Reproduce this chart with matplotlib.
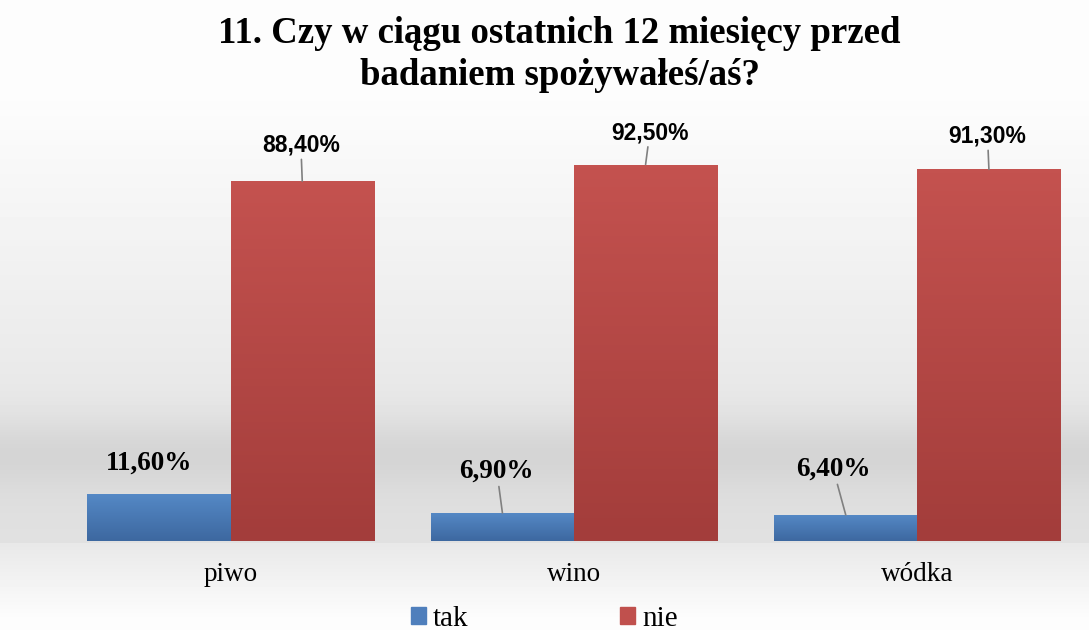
import matplotlib.pyplot as plt
import numpy as np
from matplotlib.colors import LinearSegmentedColormap
from matplotlib.patches import Patch

categories = ['piwo', 'wino', 'wódka']
tak = [11.6, 6.9, 6.4]
nie = [88.4, 92.5, 91.3]
tak_labels = ['11,60%', '6,90%', '6,40%']
nie_labels = ['88,40%', '92,50%', '91,30%']
title = '11. Czy w ciągu ostatnich 12 miesięcy przed\nbadaniem spożywałeś/aś?'

fig = plt.figure(figsize=(10.89, 6.3), dpi=100)

# background with a soft grey "floor"
bg = fig.add_axes([0, 0, 1, 1], zorder=-10)
yy = np.linspace(0, 1, 630)  # 0 = top
shade = 0.99 - 0.11 * np.clip((yy - 0.15) / 0.65, 0, 1)
shade -= 0.06 * np.exp(-((yy - 0.72) / 0.06) ** 2)
floor = 0.91 + 0.08 * np.clip((yy - 0.862) / 0.12, 0, 1)
shade = np.where(yy > 0.862, floor, shade)
bg.imshow(np.tile(shade[:, None], (1, 10)), cmap='gray', vmin=0, vmax=1,
          aspect='auto', extent=[0, 1, 0, 1])
bg.axis('off')

ax = fig.add_axes([59 / 1089, 89 / 630, 1030 / 1089, 407 / 630])
ax.patch.set_alpha(0)
x = np.arange(len(categories))
w = 0.417

blue_cmap = LinearSegmentedColormap.from_list('b', ['#3d68a0', '#5589c6'])
red_cmap = LinearSegmentedColormap.from_list('r', ['#a33d3b', '#c4524f'])

bars_tak = ax.bar(x - w / 2, tak, w, color='#4f7fbc', zorder=2)
bars_nie = ax.bar(x + w / 2, nie, w, color='#b84a47', zorder=2)

grad = np.linspace(0, 1, 100)[:, None]
for bars, cmap in [(bars_tak, blue_cmap), (bars_nie, red_cmap)]:
    for b in bars:
        im = ax.imshow(grad, cmap=cmap, aspect='auto', origin='lower',
                       extent=[b.get_x(), b.get_x() + b.get_width(), 0, b.get_height()],
                       zorder=3)
        im.set_clip_path(b)

ax.set_xlim(-0.5, 2.5)
ax.set_ylim(0, 100)
for s in ax.spines.values():
    s.set_visible(False)
ax.set_yticks([])
ax.set_xticks(x)
ax.set_xticklabels(categories, family='Liberation Serif', fontsize=19.5)
ax.tick_params(axis='x', length=0, pad=15)

# data labels (offsets in points)
tak_off = [(-7, 22, False), (-4, 30, True), (-9, 33, True)]
nie_off = [(-1, 26, True), (3, 23, True), (-1, 24, True)]
line = dict(arrowstyle='-', color='#808080', lw=1.2, shrinkA=0, shrinkB=0)
for i in range(len(categories)):
    dx, dy, ln = tak_off[i]
    ax.annotate(tak_labels[i], (x[i] - w / 2, tak[i]), xytext=(dx, dy),
                textcoords='offset points', ha='center', va='center',
                family='Liberation Serif', fontweight='bold', fontsize=19.5,
                arrowprops=line if ln else None, zorder=5)
    dx, dy, ln = nie_off[i]
    ax.annotate(nie_labels[i], (x[i] + w / 2, nie[i]), xytext=(dx, dy),
                textcoords='offset points', ha='center', va='center',
                family='Liberation Sans', fontweight='bold', fontsize=16.5,
                arrowprops=line if ln else None, zorder=5)

fig.text(0.514, 0.914, title, ha='center', va='center', family='Liberation Serif',
         fontweight='bold', fontsize=26.5, linespacing=1.27)

handles = [Patch(color='#4f7fbc'), Patch(color='#c0504d')]
fig.legend(handles, ['tak', 'nie'], loc='center', bbox_to_anchor=(0.5, 0.018),
           ncol=2, frameon=False, prop={'family': 'Liberation Serif', 'size': 21},
           handlelength=0.5, handleheight=0.5, handletextpad=0.25, columnspacing=5.2)

fig.savefig('out.png', dpi=100)
